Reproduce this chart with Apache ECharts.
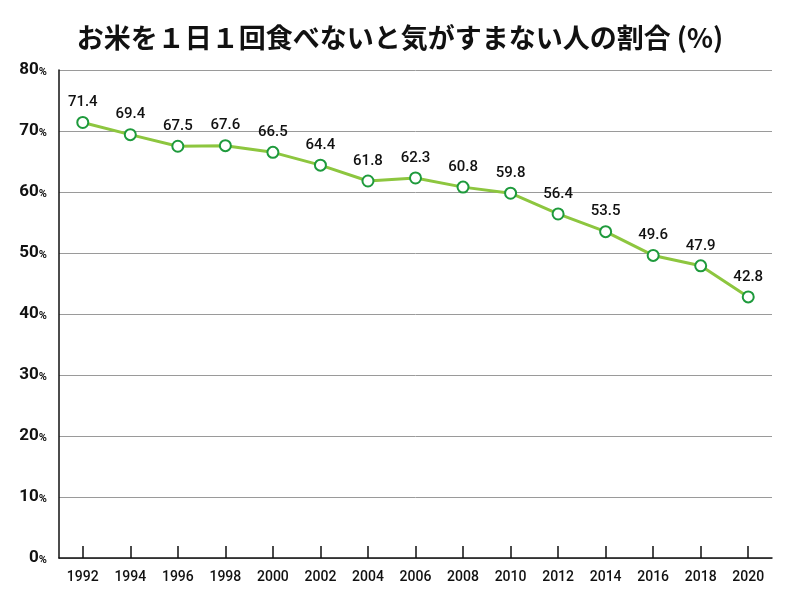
<!DOCTYPE html>
<html>
<head>
<meta charset="utf-8">
<script src="https://cdn.jsdelivr.net/npm/echarts@6/dist/echarts.min.js"></script>
<style>
  html, body { margin: 0; padding: 0; background: #fff; }
  #chart { width: 800px; height: 600px; }
</style>
</head>
<body>
<div id="chart"></div>
<script>
// years on the x axis
const years = ['1992', '1994', '1996', '1998', '2000', '2002', '2004', '2006',
  '2008', '2010', '2012', '2014', '2016', '2018', '2020'];
// share of people (%)
const shares = [71.4, 69.4, 67.5, 67.6, 66.5, 64.4, 61.8, 62.3,
  60.8, 59.8, 56.4, 53.5, 49.6, 47.9, 42.8];

const titleText = 'お米を１日１回食べないと気がすまない人の割合 (%)';
const numFont = 'Roboto, sans-serif';

var chart = echarts.init(document.getElementById('chart'));

var option = {
  animation: false,
  title: {
    text: titleText,
    left: 'center',
    top: 19,
    textStyle: {
      fontFamily: '"Noto Sans CJK JP", sans-serif',
      fontWeight: 'bold',
      fontSize: 27,
      color: '#111'
    }
  },
  grid: {
    left: 59,
    right: 28,
    top: 70,
    bottom: 42
  },
  xAxis: {
    type: 'category',
    data: years,
    boundaryGap: true,
    axisLine: { lineStyle: { color: '#111', width: 1.5 } },
    axisTick: {
      show: true,
      interval: 0,
      alignWithLabel: true,
      inside: true,
      length: 12,
      lineStyle: { color: '#111', width: 1.5 }
    },
    axisLabel: {
      interval: 0,
      margin: 12,
      fontFamily: numFont,
      fontWeight: 500,
      fontSize: 14,
      color: '#111'
    }
  },
  yAxis: {
    type: 'value',
    min: 0,
    max: 80,
    interval: 10,
    axisLine: { show: true, lineStyle: { color: '#111', width: 1.5 } },
    axisTick: { show: false },
    splitLine: { lineStyle: { color: '#9a9a9a', width: 1 } },
    axisLabel: {
      margin: 12,
      formatter: function (v) { return '{n|' + v + '}{p|%}'; },
      rich: {
        n: { fontFamily: numFont, fontWeight: 'bold', fontSize: 17, color: '#111' },
        p: { fontFamily: numFont, fontWeight: 'bold', fontSize: 11, color: '#111', padding: [4, 0, 0, 0] }
      }
    }
  },
  series: [{
    type: 'line',
    data: shares,
    symbol: 'circle',
    symbolSize: 11,
    lineStyle: { color: '#8dc63f', width: 3 },
    itemStyle: { color: '#ffffff', borderColor: '#1e9a3c', borderWidth: 2 },
    label: {
      show: true,
      position: 'top',
      distance: 6,
      fontFamily: numFont,
      fontWeight: 500,
      fontSize: 15,
      color: '#111',
      formatter: function (p) { return p.value.toFixed(1); }
    }
  }]
};

chart.setOption(option);
</script>
</body>
</html>
